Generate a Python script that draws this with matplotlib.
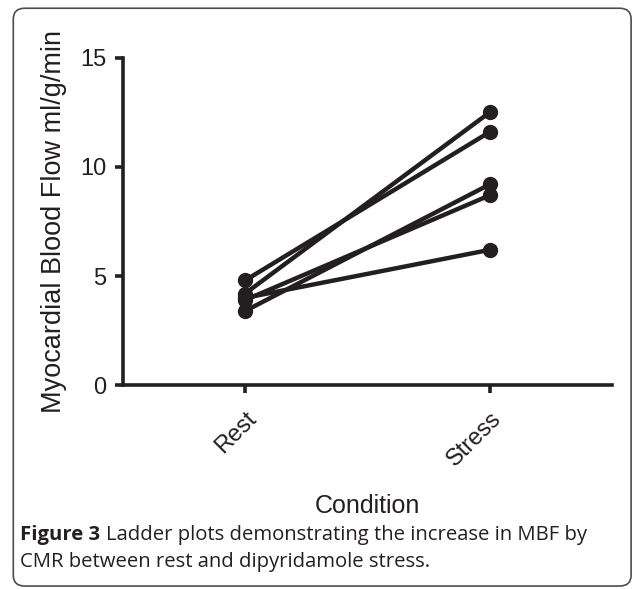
import matplotlib.pyplot as plt
from matplotlib.patches import FancyBboxPatch

conditions = ["Rest", "Stress"]
rest_mbf = [4.8, 4.2, 3.4, 3.9, 4.0]
stress_mbf = [11.6, 12.5, 9.2, 8.7, 6.2]
y_ticks = [0, 5, 10, 15]

INK = "#231f20"

plt.rcParams["font.family"] = ["Liberation Sans", "DejaVu Sans"]

fig = plt.figure(figsize=(6.33, 5.89), dpi=100)
ax = fig.add_axes([0.194, 0.346, 0.773, 0.556])

for r, s in zip(rest_mbf, stress_mbf):
    ax.plot([0, 1], [r, s], "-o", color=INK, lw=3.2, ms=10, solid_capstyle="round")

ax.set_xlim(-0.5, 1.5)
ax.set_ylim(0, 15)
ax.set_xticks(range(len(conditions)))
ax.set_xticklabels(conditions, rotation=45, ha="right", rotation_mode="anchor")
ax.set_yticks(y_ticks)

for side in ("top", "right"):
    ax.spines[side].set_visible(False)
for side in ("left", "bottom"):
    ax.spines[side].set_linewidth(2.6)
    ax.spines[side].set_color(INK)
ax.tick_params(width=2.6, length=6, color=INK, labelsize=17, labelcolor=INK)
ax.tick_params(axis="x", pad=10)
ax.tick_params(axis="y", pad=6)

ax.set_ylabel("Myocardial Blood Flow ml/g/min", fontsize=19.5, color=INK, labelpad=9)
ax.set_xlabel("Condition", fontsize=18, color=INK, labelpad=17)

# caption under the plot
cap = dict(fontsize=14.6, color=INK, family=["Open Sans", "DejaVu Sans"])
y1 = 1 - 540 / 589
y2 = 1 - 567 / 589
t1 = fig.text(0.032, y1, "Figure 3 ", fontweight="bold", va="baseline", **cap)
fig.canvas.draw()
bb = t1.get_window_extent()
fig.text(bb.x1 / fig.bbox.width, y1,
         "Ladder plots demonstrating the increase in MBF by", va="baseline", **cap)
fig.text(0.032, y2, "CMR between rest and dipyridamole stress.", va="baseline", **cap)

# rounded frame around the whole figure
frame = FancyBboxPatch((0.021, 0.005), 0.976, 0.981, boxstyle="round,pad=0,rounding_size=0.018",
                       transform=fig.transFigure, fill=False, ec="#4d4d4d", lw=1.2)
fig.patches.append(frame)

fig.savefig("out.png", dpi=100)
